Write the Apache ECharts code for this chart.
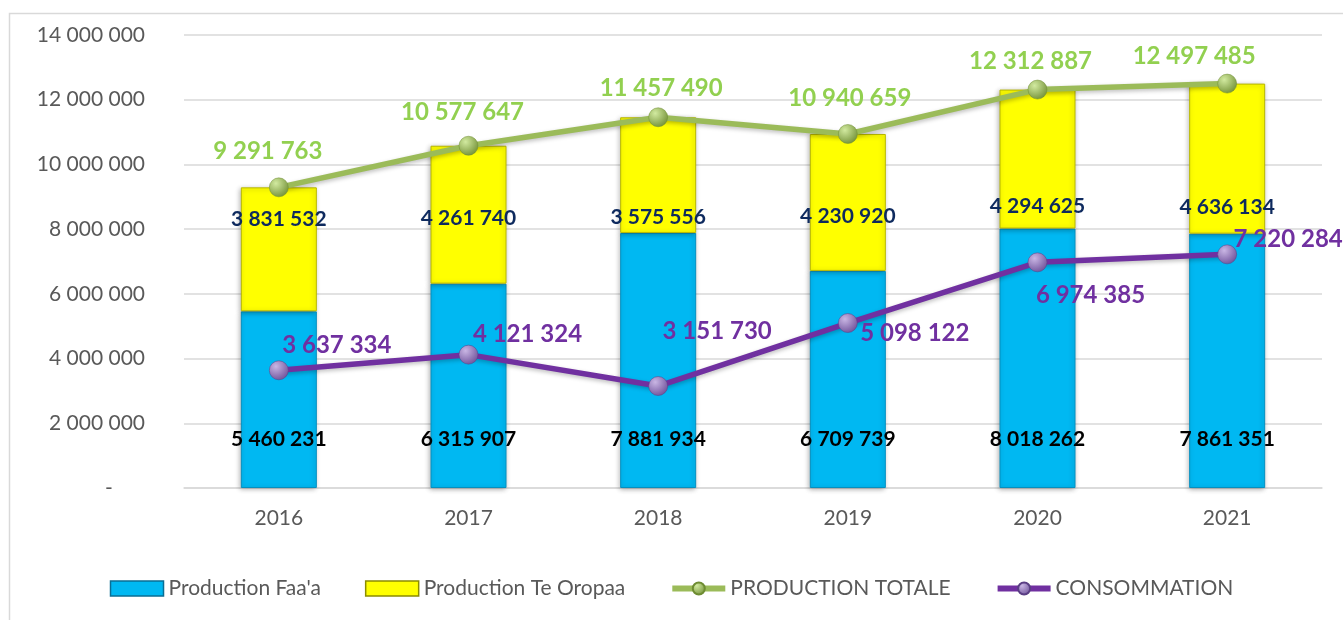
<!DOCTYPE html>
<html style="height: 100%">
<head>
<meta charset="utf-8">
<script src="https://cdn.jsdelivr.net/npm/echarts@6/dist/echarts.min.js"></script>
</head>
<body style="height: 100%; margin: 0; background: #fff">
<div id="container" style="width: 1343px; height: 620px"></div>
<script type="text/javascript">
// données
var years = ['2016', '2017', '2018', '2019', '2020', '2021'];
var faaa = [5460231, 6315907, 7881934, 6709739, 8018262, 7861351];
var teOropaa = [3831532, 4261740, 3575556, 4230920, 4294625, 4636134];
var totale = [9291763, 10577647, 11457490, 10940659, 12312887, 12497485];
var conso = [3637334, 4121324, 3151730, 5098122, 6974385, 7220284];

var FONT = 'Lato';

function fmt(v) {
    if (v === 0) return '-      ';
    return String(v).replace(/\B(?=(\d{3})+(?!\d))/g, ' ');
}

// décalages manuels des étiquettes (comme dans le graphique Excel)
var yellowOff = [16, 57, 84, 67, 101, 108];
var greenOff = [[-11, -9], [-6, -7], [3, -2], [2, -9], [-7, -2], [-33, -1]];
var purpleOff = [[58, -25], [59, -20], [59, -55], [67, 10], [53, 33], [61, -15]];

function sphere(light, dark) {
    return new echarts.graphic.RadialGradient(0.35, 0.3, 0.8, [
        { offset: 0, color: light },
        { offset: 1, color: dark }
    ]);
}

var greenBall = sphere('#D2EAA0', '#6E8C32');
var purpleBall = sphere('#C9B6E4', '#6A4C96');

var myChart = echarts.init(document.getElementById('container'));

var option = {
    backgroundColor: '#fff',
    animation: false,
    textStyle: { fontFamily: FONT },
    graphic: [{
        type: 'rect',
        shape: { x: 9.5, y: 13.5, width: 1400, height: 700 },
        style: { fill: 'none', stroke: '#D9D9D9', lineWidth: 1.5 },
        silent: true
    }],
    grid: { left: 184, right: 21, top: 35, bottom: 132 },
    legend: {
        bottom: 16,
        left: 'center',
        itemWidth: 53,
        itemHeight: 15,
        itemGap: 44,
        textStyle: { color: '#595959', fontSize: 21, fontFamily: FONT },
        data: [
            { name: "Production Faa'a", icon: 'rect', itemStyle: { borderColor: '#0A6E94', borderWidth: 1.5 } },
            { name: 'Production Te Oropaa', icon: 'rect', itemStyle: { borderColor: '#8C8C00', borderWidth: 1.5 } },
            { name: 'PRODUCTION TOTALE', lineStyle: { width: 6 } },
            { name: 'CONSOMMATION', lineStyle: { width: 6 } }
        ]
    },
    xAxis: {
        type: 'category',
        data: years,
        axisTick: { show: false },
        axisLine: { lineStyle: { color: '#D9D9D9', width: 1.5 } },
        axisLabel: { color: '#595959', fontSize: 21, margin: 20, fontFamily: FONT }
    },
    yAxis: {
        type: 'value',
        min: 0,
        max: 14000000,
        interval: 2000000,
        axisLabel: { color: '#595959', fontSize: 21, margin: 39, fontFamily: FONT, formatter: fmt },
        splitLine: { lineStyle: { color: '#D9D9D9', width: 1.5 } }
    },
    series: [
        {
            name: "Production Faa'a",
            type: 'bar',
            stack: 'prod',
            barWidth: 76,
            data: faaa,
            itemStyle: {
                color: '#00B8F2',
                borderColor: '#0590C0',
                borderWidth: 1,
                shadowColor: 'rgba(0,0,0,0.3)',
                shadowBlur: 5,
                shadowOffsetX: -1,
                shadowOffsetY: 1
            },
            label: {
                show: true,
                position: 'insideBottom',
                distance: 38,
                color: '#000',
                fontWeight: 'bold',
                fontSize: 21,
                fontFamily: FONT,
                formatter: function (p) { return fmt(p.value); }
            }
        },
        {
            name: 'Production Te Oropaa',
            type: 'bar',
            stack: 'prod',
            barWidth: 76,
            data: teOropaa.map(function (v, i) {
                return { value: v, label: { offset: [0, yellowOff[i]] } };
            }),
            itemStyle: {
                color: '#FFFF00',
                borderColor: '#B8B800',
                borderWidth: 1,
                shadowColor: 'rgba(0,0,0,0.3)',
                shadowBlur: 5,
                shadowOffsetX: -1,
                shadowOffsetY: 1
            },
            label: {
                show: true,
                position: 'insideTop',
                color: '#0E2A5E',
                fontWeight: 'bold',
                fontSize: 21,
                fontFamily: FONT,
                formatter: function (p) { return fmt(p.value); }
            }
        },
        {
            name: 'PRODUCTION TOTALE',
            type: 'line',
            data: totale.map(function (v, i) {
                return { value: v, label: { offset: greenOff[i] } };
            }),
            symbol: 'circle',
            symbolSize: 19,
            lineStyle: { color: '#9BBB59', width: 5.5, shadowColor: 'rgba(0,0,0,0.25)', shadowBlur: 4, shadowOffsetY: 2 },
            itemStyle: { color: greenBall, borderColor: '#6E8C32', borderWidth: 0.5 },
            label: {
                show: true,
                position: 'top',
                distance: 5,
                color: '#92D050',
                fontWeight: 'bold',
                fontSize: 24,
                fontFamily: FONT,
                formatter: function (p) { return fmt(p.value); }
            },
            z: 5
        },
        {
            name: 'CONSOMMATION',
            type: 'line',
            data: conso.map(function (v, i) {
                return { value: v, label: { offset: purpleOff[i] } };
            }),
            symbol: 'circle',
            symbolSize: 19,
            lineStyle: { color: '#7030A0', width: 5.5, shadowColor: 'rgba(0,0,0,0.25)', shadowBlur: 4, shadowOffsetY: 2 },
            itemStyle: { color: purpleBall, borderColor: '#5A3E84', borderWidth: 0.5 },
            label: {
                show: true,
                position: 'inside',
                color: '#7030A0',
                fontWeight: 'bold',
                fontSize: 24,
                fontFamily: FONT,
                formatter: function (p) { return fmt(p.value); }
            },
            z: 5
        }
    ]
};

myChart.setOption(option, true);
</script>
</body>
</html>
